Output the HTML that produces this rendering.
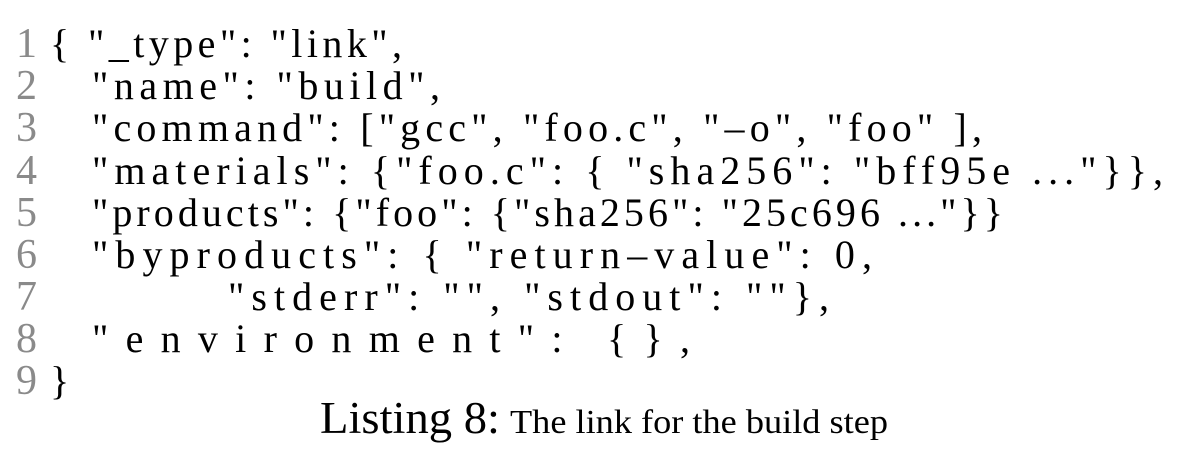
<!DOCTYPE html>
<html><head><meta charset="utf-8">
<style>
html,body{margin:0;padding:0;background:#fff;width:1182px;height:464px;overflow:hidden}
text{font-family:'Liberation Serif','Times New Roman',serif !important}
</style></head><body>
<svg width="1182" height="464" viewBox="0 0 1182 464" xmlns="http://www.w3.org/2000/svg" font-family="Liberation Serif, serif">
<g font-size="42" fill="#8a8a8a" text-anchor="end" font-family="Liberation Serif, serif">
<text x="37" y="57">1</text>
<text x="37" y="99">2</text>
<text x="37" y="141">3</text>
<text x="37" y="184">4</text>
<text x="37" y="226">5</text>
<text x="37" y="268">6</text>
<text x="37" y="310">7</text>
<text x="37" y="352">8</text>
<text x="37" y="394">9</text>
</g>
<g font-size="40" fill="#000" xml:space="preserve" font-family="Liberation Serif, serif">
<text x="50" y="57" textLength="352" lengthAdjust="spacing">{ "_type": "link",</text>
<text x="92" y="99" textLength="348" lengthAdjust="spacing">"name": "build",</text>
<text x="92" y="141" textLength="890" lengthAdjust="spacing">"command": ["gcc", "foo.c", "–o", "foo" ],</text>
<text x="92" y="184" textLength="1071" lengthAdjust="spacing">"materials": {"foo.c": { "sha256": "bff95e ..."}},</text>
<text x="92" y="226" textLength="911" lengthAdjust="spacing">"products": {"foo": {"sha256": "25c696 ..."}}</text>
<text x="92" y="268" textLength="780" lengthAdjust="spacing">"byproducts": { "return–value": 0,</text>
<text x="228" y="310" textLength="601" lengthAdjust="spacing">"stderr": "", "stdout": ""},</text>
<text x="92" y="352" textLength="598" lengthAdjust="spacing">"environment": {},</text>
<text x="50" y="394">}</text>
</g>
<text x="320" y="433" font-size="45" textLength="180" lengthAdjust="spacingAndGlyphs" font-family="Liberation Serif, serif">Listing 8:</text>
<text x="510" y="433" font-size="34" textLength="378" lengthAdjust="spacingAndGlyphs" font-family="Liberation Serif, serif">The link for the build step</text>
</svg>
</body></html>
